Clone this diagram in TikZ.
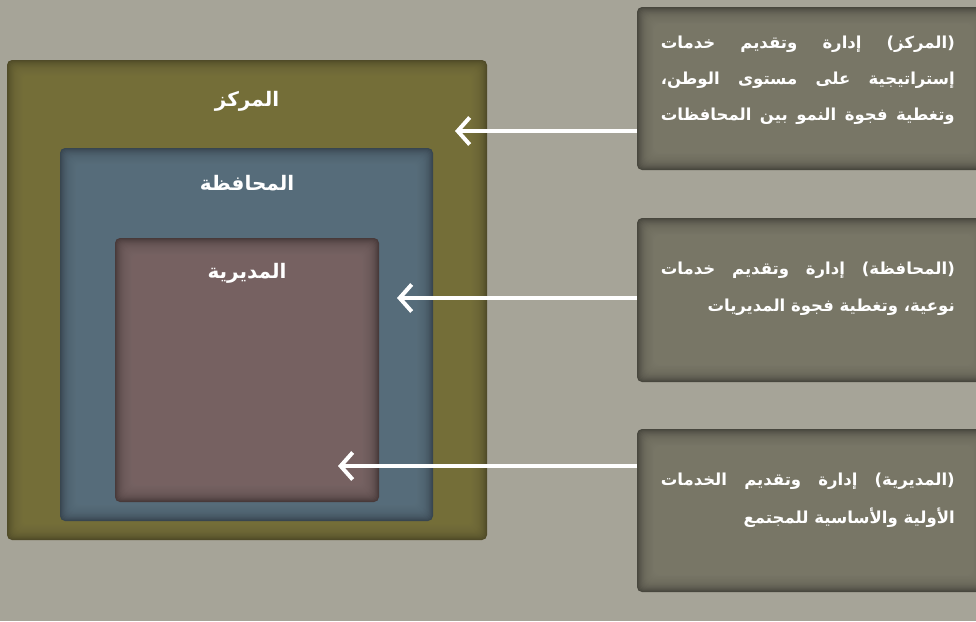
\documentclass[tikz,border=0pt]{standalone}
\usepackage{fontspec}
\usetikzlibrary{arrows.meta}
\TeXXeTstate=1
\newfontfamily\arabicfont[Script=Arabic]{DejaVu Sans}

\definecolor{bgcol}{RGB}{166,164,152}
\definecolor{oliveedge}{RGB}{80,75,40}
\definecolor{olivemain}{RGB}{124,118,64}
\definecolor{blueedge}{RGB}{56,70,80}
\definecolor{bluemain}{RGB}{94,116,130}
\definecolor{mauveedge}{RGB}{72,58,58}
\definecolor{mauvemain}{RGB}{126,105,105}
\definecolor{noteedge}{RGB}{72,71,62}
\definecolor{notemain}{RGB}{128,126,110}

% a rounded panel whose edges fade into a darker rim
\newcommand\rimpanel[6]{%
  \fill[#5,rounded corners=5pt] (#1,#2) rectangle (#3,#4);
  \foreach \k in {1,...,32}{%
    \fill[#6,fill opacity=0.12,rounded corners=5pt]
      (#1+\k*0.9,#2+\k*0.9) rectangle (#3-\k*0.9,#4-\k*0.9);
  }%
}

\tikzset{
  panel/.style={draw=none,fill=none,inner sep=0pt,outer sep=0pt},
  lbl/.style={text=white,font=\arabicfont\bfseries\fontsize{20}{24}\selectfont,inner sep=0pt},
  note/.style={text=white,font=\arabicfont\bfseries\fontsize{16.5}{20}\selectfont,inner sep=0pt,anchor=east},
  pointer/.style={white,line width=4pt,-{Straight Barb[length=12pt,width=27pt]}}
}

\begin{document}
\begin{tikzpicture}[x=1pt,y=-1pt]
\useasboundingbox (0,0) rectangle (976,621);
\fill[bgcol] (0,0) rectangle (976,621);

% nested levels
\rimpanel{7}{60}{487}{540}{oliveedge}{olivemain}
\rimpanel{60}{148}{433}{521}{blueedge}{bluemain}
\rimpanel{115}{238}{379}{502}{mauveedge}{mauvemain}

\node[panel,minimum width=480pt,minimum height=480pt] (centre) at (247,300) {};
\node[panel,minimum width=373pt,minimum height=373pt] (governorate) at (246.5,334.5) {};
\node[panel,minimum width=264pt,minimum height=264pt] (directorate) at (247,370) {};

\node[lbl] (centreLbl) at (247,101) {\beginR المركز\endR};
\node[lbl] (governorateLbl) at (247,183) {\beginR المحافظة\endR};
\node[lbl] (directorateLbl) at (247,273) {\beginR المديرية\endR};

% description notes
\rimpanel{637}{7}{990}{170}{noteedge}{notemain}
\rimpanel{637}{218}{990}{382}{noteedge}{notemain}
\rimpanel{637}{429}{990}{592}{noteedge}{notemain}

\node[panel,minimum width=353pt,minimum height=163pt] (noteA) at (813.5,88.5) {};
\node[panel,minimum width=353pt,minimum height=164pt] (noteB) at (813.5,300) {};
\node[panel,minimum width=353pt,minimum height=163pt] (noteC) at (813.5,510.5) {};

\node[note] (a1) at (955,44) {\hbox to 294pt{\beginR (المركز) إدارة وتقديم خدمات\endR}};
\node[note] (a2) at (955,80) {\hbox to 294pt{\beginR إستراتيجية على مستوى الوطن،\endR}};
\node[note] (a3) at (955,116) {\hbox to 294pt{\beginR وتغطية فجوة النمو بين المحافظات\endR}};

\node[note] (b1) at (955,270) {\hbox to 294pt{\beginR (المحافظة) إدارة وتقديم خدمات\endR}};
\node[note] (b2) at (955,307) {\beginR نوعية، وتغطية فجوة المديريات\endR};

\node[note] (c1) at (955,481) {\hbox to 294pt{\beginR (المديرية) إدارة وتقديم الخدمات\endR}};
\node[note] (c2) at (955,518) {\beginR الأولية والأساسية للمجتمع\endR};

% pointers from notes to levels
\coordinate (tipA) at (455,131);
\coordinate (tipB) at (397,298);
\coordinate (tipC) at (338,466);
\draw[pointer] (noteA.west |- tipA) -- (tipA);
\draw[pointer] (noteB.west |- tipB) -- (tipB);
\draw[pointer] (noteC.west |- tipC) -- (tipC);
\end{tikzpicture}
\end{document}
